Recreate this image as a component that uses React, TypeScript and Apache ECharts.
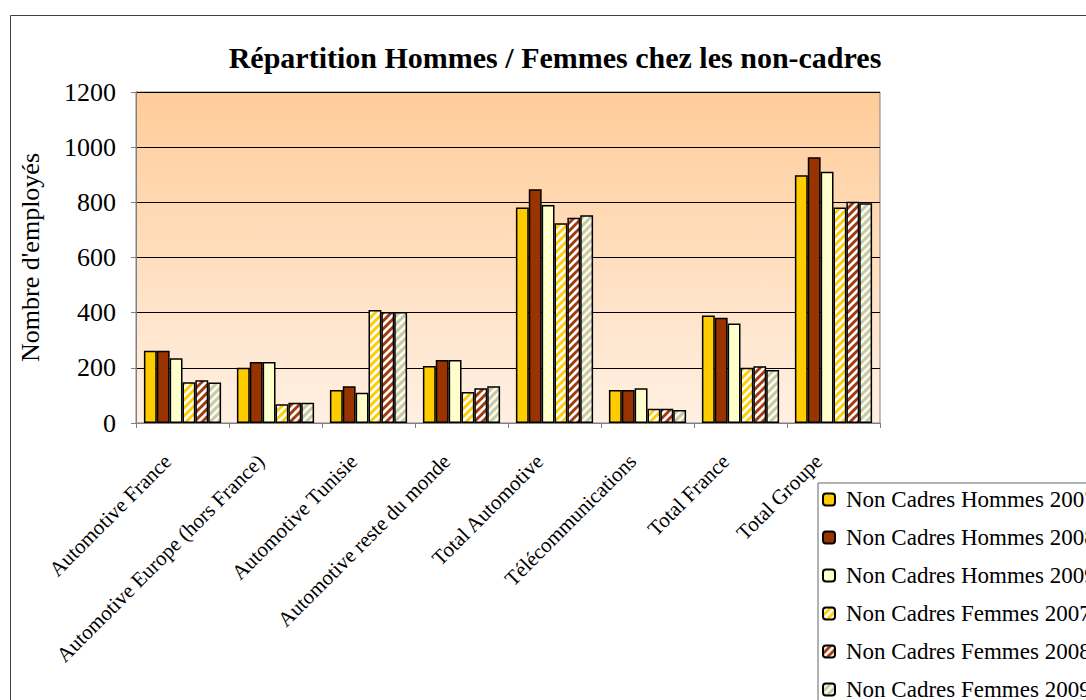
import React, { useEffect, useRef } from "react";
import * as echarts from "echarts";

const categories = [
  "Automotive France",
  "Automotive Europe (hors France)",
  "Automotive Tunisie",
  "Automotive reste du monde",
  "Total Automotive",
  "Télécommunications",
  "Total France",
  "Total Groupe",
];

const seriesNames = [
  "Non Cadres Hommes 2007",
  "Non Cadres Hommes 2008",
  "Non Cadres Hommes 2009",
  "Non Cadres Femmes 2007",
  "Non Cadres Femmes 2008",
  "Non Cadres Femmes 2009",
];

const hommes2007 = [262, 200, 120, 207, 781, 120, 390, 898];
const hommes2008 = [262, 221, 133, 228, 847, 120, 382, 963];
const hommes2009 = [235, 221, 110, 228, 790, 126, 361, 911];
const femmes2007 = [148, 68, 410, 112, 724, 52, 200, 781];
const femmes2008 = [155, 73, 402, 126, 744, 52, 206, 802];
const femmes2009 = [147, 73, 402, 133, 753, 47, 192, 797];

const yTicks = { min: 0, max: 1200, interval: 200 };

const FONT = "'Liberation Serif', 'Times New Roman', serif";

function stripePattern(bg: string, fg: string) {
  const c = document.createElement("canvas");
  const n = 8;
  c.width = n;
  c.height = n;
  const ctx = c.getContext("2d")!;
  ctx.fillStyle = bg;
  ctx.fillRect(0, 0, n, n);
  ctx.strokeStyle = fg;
  ctx.lineWidth = 3;
  for (const k of [-n, 0, n]) {
    ctx.beginPath();
    ctx.moveTo(k - 1, n + 1);
    ctx.lineTo(k + n + 1, -1);
    ctx.stroke();
  }
  return { image: c, repeat: "repeat" };
}

export default function App() {
  const ref = useRef<HTMLDivElement>(null);
  useEffect(() => {
    if (!ref.current) return;
    const chart = echarts.init(ref.current, null, { renderer: "svg" });
    const values = [hommes2007, hommes2008, hommes2009, femmes2007, femmes2008, femmes2009];
    const fills: any[] = [
      "#FFCC00",
      "#993300",
      "#FFFFCC",
      stripePattern("#FFFFFF", "#FFCC00"),
      stripePattern("#FFFFFF", "#A33A0E"),
      stripePattern("#FFFFCC", "#C4C4C4"),
    ];
    const series = values.map((v, i) => ({
      name: seriesNames[i],
      type: "bar",
      data: v,
      barGap: "0%",
      barCategoryGap: "17%",
      itemStyle: { color: fills[i], borderColor: "#000", borderWidth: 1.5 },
    }));
    chart.setOption({
      animation: false,
      backgroundColor: "#fff",
      textStyle: { fontFamily: FONT, color: "#000" },
      graphic: [
        {
          type: "rect",
          z: -10,
          shape: { x: 10.5, y: 15.5, width: 1300, height: 1000 },
          style: { fill: "none", stroke: "#404040", lineWidth: 1 },
        },
        {
          type: "text",
          x: 555,
          y: 57,
          style: {
            text: "Répartition Hommes / Femmes chez les non-cadres",
            fill: "#000",
            font: "bold 30px " + FONT,
            align: "center",
            verticalAlign: "middle",
          },
        },
      ],
      grid: {
        left: 136,
        right: 206,
        top: 92,
        bottom: 277,
        show: true,
        borderColor: "#808080",
        borderWidth: 1,
        backgroundColor: new echarts.graphic.LinearGradient(0, 0, 0, 1, [
          { offset: 0, color: "#FFCC99" },
          { offset: 1, color: "#FFF0E3" },
        ]),
      },
      legend: {
        orient: "vertical",
        left: 818,
        top: 483,
        height: 400,
        padding: [5, 30, 10, 4],
        itemGap: 15,
        itemWidth: 12,
        itemHeight: 12,
        backgroundColor: "#fff",
        borderColor: "#666",
        borderWidth: 1,
        borderRadius: 0,
        textStyle: { fontFamily: FONT, fontSize: 23, color: "#000", padding: [0, 0, 0, 6], lineHeight: 22 },
        data: seriesNames,
      },
      xAxis: {
        type: "category",
        data: categories,
        axisLine: { lineStyle: { color: "#808080" } },
        axisTick: { show: true, length: 5, lineStyle: { color: "#808080" } },
        axisLabel: {
          rotate: 45,
          interval: 0,
          fontSize: 21,
          fontFamily: FONT,
          color: "#000",
          margin: 20,
          padding: [0, 21, 0, 0],
        },
      },
      yAxis: {
        type: "value",
        min: yTicks.min,
        max: yTicks.max,
        interval: yTicks.interval,
        name: "Nombre d'employés",
        nameLocation: "middle",
        nameGap: 93,
        nameTextStyle: { fontFamily: FONT, fontSize: 26, color: "#000" },
        axisLine: { show: true, lineStyle: { color: "#808080" } },
        axisTick: { show: true, length: 5, lineStyle: { color: "#808080" } },
        axisLabel: {
          fontSize: 26,
          fontFamily: FONT,
          color: "#000",
          margin: 20,
          formatter: (v: number) => String(v),
        },
        splitLine: { lineStyle: { color: "#000", width: 1 } },
      },
      series,
    });
    return () => chart.dispose();
  }, []);
  return (
    <div
      ref={ref}
      style={{ position: "fixed", left: 0, top: 0, width: 1086, height: 700, background: "#fff" }}
    />
  );
}
